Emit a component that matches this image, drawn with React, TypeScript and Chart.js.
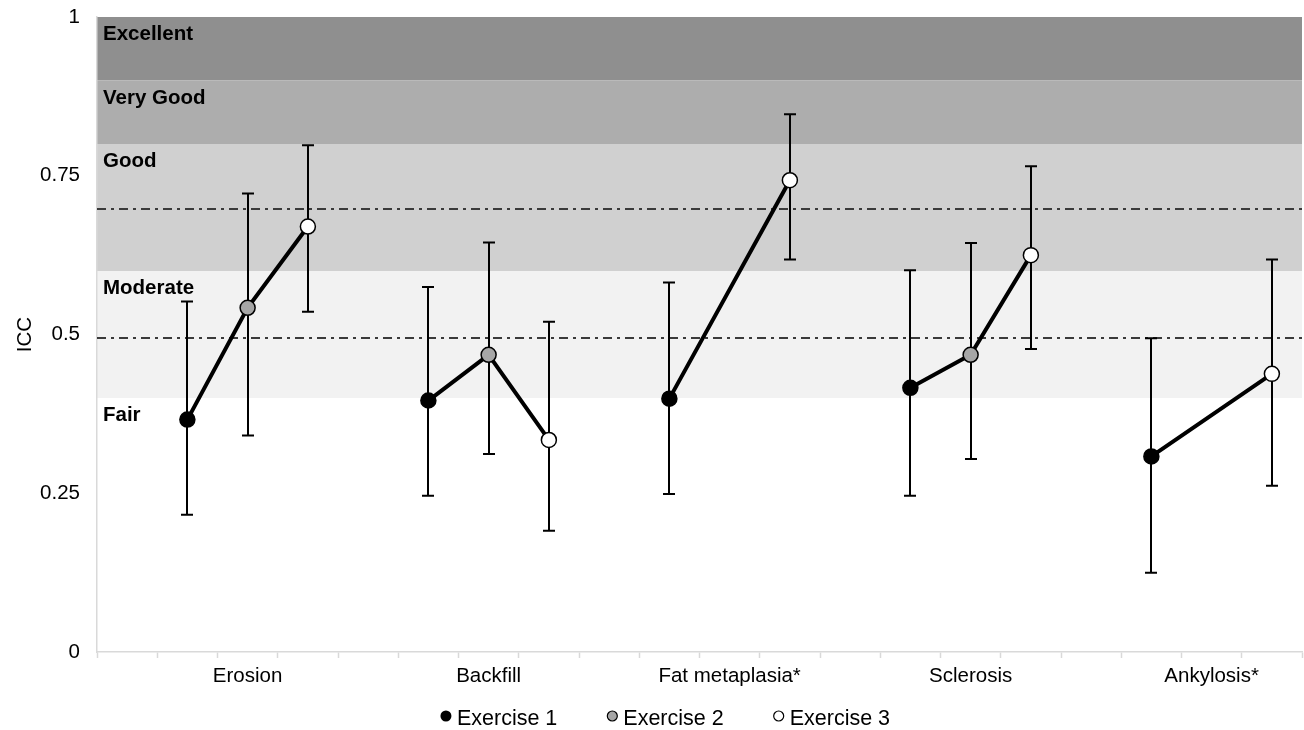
import React, { useEffect, useRef } from 'react';
import { Chart, registerables } from 'chart.js';

Chart.register(...registerables);

// ---- data ----
const categories = ['Erosion', 'Backfill', 'Fat metaplasia*', 'Sclerosis', 'Ankylosis*'];
const seriesNames = ['Exercise 1', 'Exercise 2', 'Exercise 3'];

const exercise1 = [0.366, 0.396, 0.399, 0.416, 0.308];
const exercise1Low = [0.216, 0.246, 0.249, 0.246, 0.125];
const exercise1High = [0.552, 0.575, 0.582, 0.601, 0.494];

const exercise2 = [0.542, 0.468, null, 0.468, null];
const exercise2Low = [0.341, 0.312, null, 0.304, null];
const exercise2High = [0.722, 0.645, null, 0.644, null];

const exercise3 = [0.670, 0.334, 0.743, 0.625, 0.438];
const exercise3Low = [0.536, 0.191, 0.618, 0.477, 0.262];
const exercise3High = [0.798, 0.520, 0.847, 0.765, 0.618];

const bandNames = ['Excellent', 'Very Good', 'Good', 'Moderate', 'Fair'];
const bandLower = [0.9, 0.8, 0.6, 0.4, 0.2];
const bandUpper = [1.0, 0.9, 0.8, 0.6, 0.4];

const referenceLines = [0.697, 0.495];

const yTicks = [0, 0.25, 0.5, 0.75, 1];

// ---- styles ----
const FONT = "'Liberation Sans', Arial, sans-serif";
const bandColors = ['#8f8f8f', '#adadad', '#d0d0d0', '#f2f2f2', '#ffffff'];
const markerColors = ['#000000', '#a6a6a6', '#ffffff'];

export default function App() {
  const ref = useRef<HTMLCanvasElement | null>(null);

  useEffect(() => {
    const canvas = ref.current;
    if (!canvas) return;

    const values = [exercise1, exercise2, exercise3];
    const lows = [exercise1Low, exercise2Low, exercise3Low];
    const highs = [exercise1High, exercise2High, exercise3High];

    // each category occupies 4 slots; the 3 exercises sit in slots 1..3
    const slot = (g: number, k: number) => g * 4 + 1.5 + k;
    const labelPositions = categories.map((_, g) => slot(g, 1));
    const tickValues: number[] = [];
    for (let i = 0; i <= categories.length * 4; i++) tickValues.push(i);
    labelPositions.forEach((p) => tickValues.push(p));
    tickValues.sort((a, b) => a - b);

    const markerDatasets = seriesNames.map((name, k) => {
      const data: { x: number; y: number }[] = [];
      categories.forEach((_, g) => {
        const v = values[k][g];
        if (v != null) data.push({ x: slot(g, k), y: v as number });
      });
      return {
        label: name,
        data,
        showLine: false,
        pointRadius: 7.5,
        pointHoverRadius: 7.5,
        pointBorderWidth: 1.5,
        pointBackgroundColor: markerColors[k],
        pointBorderColor: '#000000',
        order: 0,
      };
    });

    const connectorData: { x: number; y: number | null }[] = [];
    categories.forEach((_, g) => {
      for (let k = 0; k < 3; k++) {
        const v = values[k][g];
        if (v != null) connectorData.push({ x: slot(g, k), y: v as number });
      }
      connectorData.push({ x: slot(g, 2) + 1, y: null });
    });

    const bandsPlugin = {
      id: 'bands',
      beforeDraw(chart: any) {
        const { ctx, chartArea } = chart;
        const y = chart.scales.y;
        ctx.save();
        bandNames.forEach((_, i) => {
          const top = y.getPixelForValue(bandUpper[i]);
          const bottom = y.getPixelForValue(bandLower[i]);
          ctx.fillStyle = bandColors[i];
          ctx.fillRect(chartArea.left, top, chartArea.right - chartArea.left, bottom - top);
        });
        ctx.restore();
      },
      beforeDatasetsDraw(chart: any) {
        const { ctx, chartArea } = chart;
        const y = chart.scales.y;
        const x = chart.scales.x;
        ctx.save();
        // band labels
        ctx.font = `bold 20.5px ${FONT}`;
        ctx.fillStyle = '#000000';
        ctx.textAlign = 'left';
        ctx.textBaseline = 'alphabetic';
        bandNames.forEach((name, i) => {
          const top = y.getPixelForValue(bandUpper[i]);
          ctx.fillText(name, chartArea.left + 6, top + 23);
        });
        // reference dash-dot lines
        ctx.strokeStyle = '#3a3a3a';
        ctx.lineWidth = 2;
        ctx.setLineDash([9, 5, 3, 5]);
        referenceLines.forEach((v) => {
          const py = Math.round(y.getPixelForValue(v));
          ctx.beginPath();
          ctx.moveTo(chartArea.left, py);
          ctx.lineTo(chartArea.right, py);
          ctx.stroke();
        });
        ctx.setLineDash([]);
        // error bars
        ctx.strokeStyle = '#000000';
        ctx.lineWidth = 2;
        const cap = 6;
        categories.forEach((_, g) => {
          for (let k = 0; k < 3; k++) {
            const lo = lows[k][g];
            const hi = highs[k][g];
            if (lo == null || hi == null) continue;
            const px = Math.round(x.getPixelForValue(slot(g, k)));
            const pLo = y.getPixelForValue(lo as number);
            const pHi = y.getPixelForValue(hi as number);
            ctx.beginPath();
            ctx.moveTo(px, pLo);
            ctx.lineTo(px, pHi);
            ctx.moveTo(px - cap, pLo);
            ctx.lineTo(px + cap, pLo);
            ctx.moveTo(px - cap, pHi);
            ctx.lineTo(px + cap, pHi);
            ctx.stroke();
          }
        });
        ctx.restore();
      },
      afterDraw(chart: any) {
        const { ctx } = chart;
        ctx.save();
        ctx.font = `21.5px ${FONT}`;
        ctx.textBaseline = 'alphabetic';
        ctx.textAlign = 'left';
        const r = [5.5, 5, 5];
        const gapToText = 11;
        const gapItems = 55;
        const widths = seriesNames.map((n) => ctx.measureText(n).width);
        let total = 0;
        seriesNames.forEach((_, k) => {
          total += r[k] + gapToText + widths[k];
          if (k < seriesNames.length - 1) total += gapItems;
        });
        total += r[0];
        const centerX = 673;
        let cx = centerX - total / 2 + r[0];
        const cy = 716;
        seriesNames.forEach((name, k) => {
          ctx.beginPath();
          ctx.arc(cx, cy, r[k], 0, Math.PI * 2);
          ctx.fillStyle = markerColors[k];
          ctx.fill();
          if (k > 0) {
            ctx.lineWidth = 1.2;
            ctx.strokeStyle = '#000000';
            ctx.stroke();
          }
          ctx.fillStyle = '#000000';
          ctx.fillText(name, cx + gapToText, 725);
          cx += gapToText + widths[k] + gapItems;
        });
        ctx.restore();
      },
    };

    const chart = new Chart(canvas, {
      type: 'scatter',
      data: {
        datasets: [
          ...markerDatasets,
          {
            label: 'connector',
            data: connectorData,
            showLine: true,
            spanGaps: false,
            borderColor: '#000000',
            borderWidth: 4,
            pointRadius: 0,
            pointHoverRadius: 0,
            order: 1,
          } as any,
        ],
      },
      options: {
        responsive: false,
        animation: false,
        devicePixelRatio: 1,
        events: [],
        layout: { autoPadding: false, padding: { top: 17, right: 2, bottom: 0, left: 0 } },
        plugins: {
          legend: { display: false },
          tooltip: { enabled: false },
        },
        scales: {
          x: {
            type: 'linear',
            min: 0,
            max: categories.length * 4,
            afterBuildTicks: (s: any) => {
              s.ticks = tickValues.map((v) => ({ value: v }));
            },
            afterFit: (s: any) => {
              s.height = 78;
              s.paddingLeft = 0;
              s.paddingRight = 0;
            },
            grid: {
              drawOnChartArea: false,
              drawTicks: true,
              tickLength: 6,
              tickWidth: 1.5,
              tickColor: (c: any) =>
                c.tick && Number.isInteger(c.tick.value) ? '#d9d9d9' : 'rgba(0,0,0,0)',
            },
            border: { color: '#d9d9d9', width: 1.5 },
            ticks: {
              autoSkip: false,
              maxRotation: 0,
              minRotation: 0,
              padding: 6,
              color: '#000000',
              font: { family: FONT, size: 20.5 },
              callback: (v: any) => {
                const i = labelPositions.indexOf(Number(v));
                return i >= 0 ? categories[i] : '';
              },
            },
          },
          y: {
            type: 'linear',
            min: 0,
            max: 1,
            afterBuildTicks: (s: any) => {
              s.ticks = yTicks.map((v) => ({ value: v }));
            },
            afterFit: (s: any) => {
              s.width = 97;
              s.paddingTop = 0;
              s.paddingBottom = 0;
            },
            grid: { drawOnChartArea: false, drawTicks: false },
            border: { color: '#d9d9d9', width: 1.5 },
            ticks: {
              padding: 17,
              color: '#000000',
              font: { family: FONT, size: 20.5 },
              callback: (v: any) => String(Number(v)),
            },
            title: {
              display: true,
              text: 'ICC',
              color: '#000000',
              font: { family: FONT, size: 20.5 },
              padding: { top: 13, bottom: 0 },
            },
          },
        },
      },
      plugins: [bandsPlugin],
    });

    return () => chart.destroy();
  }, []);

  return (
    <div style={{ position: 'fixed', left: 0, top: 0, width: 1304, height: 730, background: '#ffffff' }}>
      <canvas ref={ref} width={1304} height={730} style={{ display: 'block' }} />
    </div>
  );
}
